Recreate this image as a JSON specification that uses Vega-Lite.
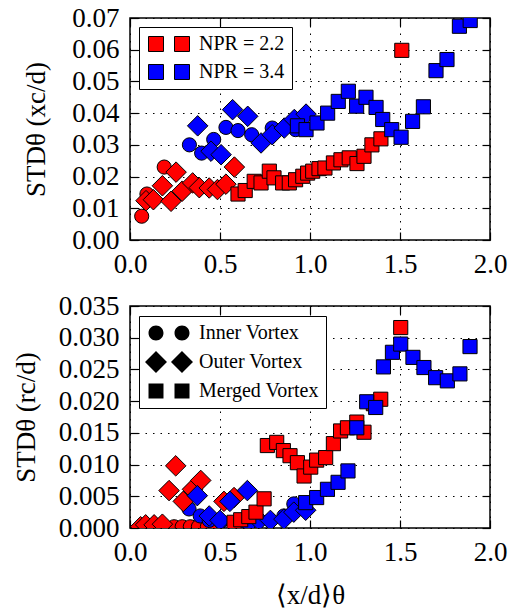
{
  "$schema": "https://vega.github.io/schema/vega-lite/v6.json",
  "padding": {"left": 11, "top": 3, "right": 5, "bottom": 0},
  "background": "white",
  "spacing": 66,
  "bounds": "flush",
  "resolve": {"scale": {"color": "independent", "shape": "independent"}, "legend": {"color": "independent", "shape": "independent"}},
  "datasets": {
    "top": [
      {"npr": "2.2", "type": "Inner Vortex", "x": 0.065, "y": 0.0075},
      {"npr": "2.2", "type": "Inner Vortex", "x": 0.094, "y": 0.0145},
      {"npr": "2.2", "type": "Inner Vortex", "x": 0.19, "y": 0.023},
      {"npr": "3.4", "type": "Inner Vortex", "x": 0.33, "y": 0.030},
      {"npr": "3.4", "type": "Inner Vortex", "x": 0.398, "y": 0.0274},
      {"npr": "3.4", "type": "Inner Vortex", "x": 0.465, "y": 0.0317},
      {"npr": "3.4", "type": "Inner Vortex", "x": 0.533, "y": 0.0355},
      {"npr": "3.4", "type": "Inner Vortex", "x": 0.60, "y": 0.0345},
      {"npr": "3.4", "type": "Inner Vortex", "x": 0.676, "y": 0.0332},
      {"npr": "3.4", "type": "Inner Vortex", "x": 0.79, "y": 0.0353},
      {"npr": "3.4", "type": "Inner Vortex", "x": 0.92, "y": 0.0348},
      {"npr": "2.2", "type": "Outer Vortex", "x": 0.089, "y": 0.0124},
      {"npr": "2.2", "type": "Outer Vortex", "x": 0.13, "y": 0.0127},
      {"npr": "2.2", "type": "Outer Vortex", "x": 0.18, "y": 0.0171},
      {"npr": "2.2", "type": "Outer Vortex", "x": 0.228, "y": 0.0122},
      {"npr": "2.2", "type": "Outer Vortex", "x": 0.256, "y": 0.0214},
      {"npr": "2.2", "type": "Outer Vortex", "x": 0.29, "y": 0.0154},
      {"npr": "2.2", "type": "Outer Vortex", "x": 0.348, "y": 0.018},
      {"npr": "2.2", "type": "Outer Vortex", "x": 0.385, "y": 0.0165},
      {"npr": "2.2", "type": "Outer Vortex", "x": 0.44, "y": 0.0164},
      {"npr": "2.2", "type": "Outer Vortex", "x": 0.486, "y": 0.0159},
      {"npr": "2.2", "type": "Outer Vortex", "x": 0.533, "y": 0.0176},
      {"npr": "2.2", "type": "Outer Vortex", "x": 0.58, "y": 0.023},
      {"npr": "3.4", "type": "Outer Vortex", "x": 0.376, "y": 0.036},
      {"npr": "3.4", "type": "Outer Vortex", "x": 0.45, "y": 0.028},
      {"npr": "3.4", "type": "Outer Vortex", "x": 0.506, "y": 0.0269},
      {"npr": "3.4", "type": "Outer Vortex", "x": 0.57, "y": 0.0411},
      {"npr": "3.4", "type": "Outer Vortex", "x": 0.654, "y": 0.039},
      {"npr": "3.4", "type": "Outer Vortex", "x": 0.728, "y": 0.0306},
      {"npr": "3.4", "type": "Outer Vortex", "x": 0.79, "y": 0.0332},
      {"npr": "3.4", "type": "Outer Vortex", "x": 0.857, "y": 0.0353},
      {"npr": "3.4", "type": "Outer Vortex", "x": 0.913, "y": 0.038},
      {"npr": "3.4", "type": "Outer Vortex", "x": 0.978, "y": 0.0397},
      {"npr": "2.2", "type": "Merged Vortex", "x": 0.60, "y": 0.0145},
      {"npr": "2.2", "type": "Merged Vortex", "x": 0.64, "y": 0.0156},
      {"npr": "2.2", "type": "Merged Vortex", "x": 0.69, "y": 0.0185},
      {"npr": "2.2", "type": "Merged Vortex", "x": 0.728, "y": 0.018},
      {"npr": "2.2", "type": "Merged Vortex", "x": 0.774, "y": 0.0217},
      {"npr": "2.2", "type": "Merged Vortex", "x": 0.80, "y": 0.0196},
      {"npr": "2.2", "type": "Merged Vortex", "x": 0.848, "y": 0.018},
      {"npr": "2.2", "type": "Merged Vortex", "x": 0.885, "y": 0.018},
      {"npr": "2.2", "type": "Merged Vortex", "x": 0.92, "y": 0.019},
      {"npr": "2.2", "type": "Merged Vortex", "x": 0.96, "y": 0.0201},
      {"npr": "2.2", "type": "Merged Vortex", "x": 0.987, "y": 0.0211},
      {"npr": "2.2", "type": "Merged Vortex", "x": 1.015, "y": 0.0217},
      {"npr": "2.2", "type": "Merged Vortex", "x": 1.05, "y": 0.0225},
      {"npr": "2.2", "type": "Merged Vortex", "x": 1.083, "y": 0.0227},
      {"npr": "2.2", "type": "Merged Vortex", "x": 1.13, "y": 0.0243},
      {"npr": "2.2", "type": "Merged Vortex", "x": 1.172, "y": 0.0253},
      {"npr": "2.2", "type": "Merged Vortex", "x": 1.218, "y": 0.0259},
      {"npr": "2.2", "type": "Merged Vortex", "x": 1.261, "y": 0.0241},
      {"npr": "2.2", "type": "Merged Vortex", "x": 1.30, "y": 0.0264},
      {"npr": "2.2", "type": "Merged Vortex", "x": 1.344, "y": 0.030},
      {"npr": "2.2", "type": "Merged Vortex", "x": 1.394, "y": 0.0319},
      {"npr": "2.2", "type": "Merged Vortex", "x": 1.51, "y": 0.0598},
      {"npr": "3.4", "type": "Merged Vortex", "x": 0.93, "y": 0.036},
      {"npr": "3.4", "type": "Merged Vortex", "x": 0.978, "y": 0.0348},
      {"npr": "3.4", "type": "Merged Vortex", "x": 1.039, "y": 0.0369},
      {"npr": "3.4", "type": "Merged Vortex", "x": 1.098, "y": 0.040},
      {"npr": "3.4", "type": "Merged Vortex", "x": 1.157, "y": 0.0437},
      {"npr": "3.4", "type": "Merged Vortex", "x": 1.213, "y": 0.0469},
      {"npr": "3.4", "type": "Merged Vortex", "x": 1.259, "y": 0.0422},
      {"npr": "3.4", "type": "Merged Vortex", "x": 1.311, "y": 0.045},
      {"npr": "3.4", "type": "Merged Vortex", "x": 1.367, "y": 0.0418},
      {"npr": "3.4", "type": "Merged Vortex", "x": 1.404, "y": 0.038},
      {"npr": "3.4", "type": "Merged Vortex", "x": 1.454, "y": 0.0348},
      {"npr": "3.4", "type": "Merged Vortex", "x": 1.506, "y": 0.0324},
      {"npr": "3.4", "type": "Merged Vortex", "x": 1.57, "y": 0.0374},
      {"npr": "3.4", "type": "Merged Vortex", "x": 1.63, "y": 0.042},
      {"npr": "3.4", "type": "Merged Vortex", "x": 1.70, "y": 0.0534},
      {"npr": "3.4", "type": "Merged Vortex", "x": 1.761, "y": 0.0569},
      {"npr": "3.4", "type": "Merged Vortex", "x": 1.83, "y": 0.0674},
      {"npr": "3.4", "type": "Merged Vortex", "x": 1.89, "y": 0.0692}
    ],
    "bottom": [
      {"npr": "2.2", "type": "Inner Vortex", "x": 0.245, "y": 0.0002},
      {"npr": "2.2", "type": "Inner Vortex", "x": 0.29, "y": 0.0002},
      {"npr": "2.2", "type": "Inner Vortex", "x": 0.335, "y": 0.0002},
      {"npr": "2.2", "type": "Inner Vortex", "x": 0.38, "y": 0.0002},
      {"npr": "2.2", "type": "Inner Vortex", "x": 0.43, "y": 0.0002},
      {"npr": "2.2", "type": "Inner Vortex", "x": 0.475, "y": 0.0002},
      {"npr": "3.4", "type": "Inner Vortex", "x": 0.328, "y": 0.003},
      {"npr": "3.4", "type": "Inner Vortex", "x": 0.39, "y": 0.0019},
      {"npr": "3.4", "type": "Inner Vortex", "x": 0.44, "y": 0.0012},
      {"npr": "3.4", "type": "Inner Vortex", "x": 0.504, "y": 0.001},
      {"npr": "3.4", "type": "Inner Vortex", "x": 0.597, "y": 0.0007},
      {"npr": "3.4", "type": "Inner Vortex", "x": 0.66, "y": 0.0007},
      {"npr": "3.4", "type": "Inner Vortex", "x": 0.78, "y": 0.0012},
      {"npr": "3.4", "type": "Inner Vortex", "x": 0.855, "y": 0.0019},
      {"npr": "3.4", "type": "Inner Vortex", "x": 0.91, "y": 0.0038},
      {"npr": "2.2", "type": "Outer Vortex", "x": 0.059, "y": 0.0002},
      {"npr": "2.2", "type": "Outer Vortex", "x": 0.087, "y": 0.0005},
      {"npr": "2.2", "type": "Outer Vortex", "x": 0.134, "y": 0.0005},
      {"npr": "2.2", "type": "Outer Vortex", "x": 0.18, "y": 0.0006},
      {"npr": "2.2", "type": "Outer Vortex", "x": 0.217, "y": 0.0059},
      {"npr": "2.2", "type": "Outer Vortex", "x": 0.254, "y": 0.0098},
      {"npr": "2.2", "type": "Outer Vortex", "x": 0.296, "y": 0.0042},
      {"npr": "2.2", "type": "Outer Vortex", "x": 0.347, "y": 0.0061},
      {"npr": "2.2", "type": "Outer Vortex", "x": 0.393, "y": 0.0075},
      {"npr": "2.2", "type": "Outer Vortex", "x": 0.522, "y": 0.0042},
      {"npr": "2.2", "type": "Outer Vortex", "x": 0.578, "y": 0.0048},
      {"npr": "3.4", "type": "Outer Vortex", "x": 0.374, "y": 0.0051},
      {"npr": "3.4", "type": "Outer Vortex", "x": 0.44, "y": 0.0019},
      {"npr": "3.4", "type": "Outer Vortex", "x": 0.50, "y": 0.0012},
      {"npr": "3.4", "type": "Outer Vortex", "x": 0.555, "y": 0.0042},
      {"npr": "3.4", "type": "Outer Vortex", "x": 0.652, "y": 0.0059},
      {"npr": "3.4", "type": "Outer Vortex", "x": 0.717, "y": 0.0012},
      {"npr": "3.4", "type": "Outer Vortex", "x": 0.78, "y": 0.0012},
      {"npr": "3.4", "type": "Outer Vortex", "x": 0.855, "y": 0.0014},
      {"npr": "3.4", "type": "Outer Vortex", "x": 0.91, "y": 0.0025},
      {"npr": "3.4", "type": "Outer Vortex", "x": 0.976, "y": 0.0028},
      {"npr": "2.2", "type": "Merged Vortex", "x": 0.578, "y": 0.0009},
      {"npr": "2.2", "type": "Merged Vortex", "x": 0.615, "y": 0.0013},
      {"npr": "2.2", "type": "Merged Vortex", "x": 0.66, "y": 0.0018},
      {"npr": "2.2", "type": "Merged Vortex", "x": 0.70, "y": 0.0025},
      {"npr": "2.2", "type": "Merged Vortex", "x": 0.745, "y": 0.0046},
      {"npr": "2.2", "type": "Merged Vortex", "x": 0.763, "y": 0.013},
      {"npr": "2.2", "type": "Merged Vortex", "x": 0.815, "y": 0.0135},
      {"npr": "2.2", "type": "Merged Vortex", "x": 0.852, "y": 0.0122},
      {"npr": "2.2", "type": "Merged Vortex", "x": 0.889, "y": 0.0114},
      {"npr": "2.2", "type": "Merged Vortex", "x": 0.93, "y": 0.0103},
      {"npr": "2.2", "type": "Merged Vortex", "x": 0.967, "y": 0.0082},
      {"npr": "2.2", "type": "Merged Vortex", "x": 1.004, "y": 0.0096},
      {"npr": "2.2", "type": "Merged Vortex", "x": 1.037, "y": 0.0107},
      {"npr": "2.2", "type": "Merged Vortex", "x": 1.087, "y": 0.0111},
      {"npr": "2.2", "type": "Merged Vortex", "x": 1.13, "y": 0.0133},
      {"npr": "2.2", "type": "Merged Vortex", "x": 1.17, "y": 0.0153},
      {"npr": "2.2", "type": "Merged Vortex", "x": 1.208, "y": 0.0158},
      {"npr": "2.2", "type": "Merged Vortex", "x": 1.26, "y": 0.0167},
      {"npr": "2.2", "type": "Merged Vortex", "x": 1.30, "y": 0.0151},
      {"npr": "2.2", "type": "Merged Vortex", "x": 1.352, "y": 0.0196},
      {"npr": "2.2", "type": "Merged Vortex", "x": 1.393, "y": 0.0203},
      {"npr": "2.2", "type": "Merged Vortex", "x": 1.504, "y": 0.0316},
      {"npr": "3.4", "type": "Merged Vortex", "x": 0.976, "y": 0.004},
      {"npr": "3.4", "type": "Merged Vortex", "x": 1.037, "y": 0.0048},
      {"npr": "3.4", "type": "Merged Vortex", "x": 1.097, "y": 0.0061},
      {"npr": "3.4", "type": "Merged Vortex", "x": 1.156, "y": 0.0072},
      {"npr": "3.4", "type": "Merged Vortex", "x": 1.211, "y": 0.009},
      {"npr": "3.4", "type": "Merged Vortex", "x": 1.26, "y": 0.0158},
      {"npr": "3.4", "type": "Merged Vortex", "x": 1.315, "y": 0.0199},
      {"npr": "3.4", "type": "Merged Vortex", "x": 1.365, "y": 0.019},
      {"npr": "3.4", "type": "Merged Vortex", "x": 1.408, "y": 0.0254},
      {"npr": "3.4", "type": "Merged Vortex", "x": 1.458, "y": 0.0277},
      {"npr": "3.4", "type": "Merged Vortex", "x": 1.504, "y": 0.029},
      {"npr": "3.4", "type": "Merged Vortex", "x": 1.572, "y": 0.0269},
      {"npr": "3.4", "type": "Merged Vortex", "x": 1.633, "y": 0.0253},
      {"npr": "3.4", "type": "Merged Vortex", "x": 1.698, "y": 0.0237},
      {"npr": "3.4", "type": "Merged Vortex", "x": 1.763, "y": 0.0232},
      {"npr": "3.4", "type": "Merged Vortex", "x": 1.833, "y": 0.0243},
      {"npr": "3.4", "type": "Merged Vortex", "x": 1.889, "y": 0.0286}
    ]
  },
  "config": {
    "font": "Liberation Serif",
    "view": {"stroke": "black", "strokeWidth": 1.5},
    "axis": {
      "labelFont": "Liberation Serif", "labelFontSize": 27, "labelColor": "black",
      "titleFont": "Liberation Serif", "titleFontSize": 27, "titleFontWeight": "normal", "titleColor": "black",
      "domain": false, "tickColor": "black", "tickSize": -8, "tickWidth": 1.2,
      "gridColor": "black", "gridDash": [1.5, 6], "gridWidth": 1, "gridOpacity": 1,
      "labelPadding": 19, "labelFlush": false, "labelOverlap": false
    },
    "legend": {
      "labelFont": "Liberation Serif", "labelFontSize": 20, "labelColor": "black",
      "strokeColor": "black", "fillColor": "white", "padding": 7, "rowPadding": 8,
      "symbolSize": 196, "symbolStrokeColor": "black", "symbolStrokeWidth": 1,
      "labelOffset": 33, "symbolOffset": 0, "cornerRadius": 0
    }
  },
  "vconcat": [
    {
      "width": 360, "height": 222,
      "data": {"name": "top"},
      "layer": [
        {
          "mark": {"type": "point", "filled": true, "opacity": 1, "stroke": "black", "strokeWidth": 1, "clip": true, "size": 200},
          "encoding": {
            "x": {"field": "x", "type": "quantitative", "scale": {"domain": [0, 2], "nice": false},
                  "axis": {"title": null, "values": [0, 0.5, 1, 1.5, 2], "format": ".1f"}},
            "y": {"field": "y", "type": "quantitative", "scale": {"domain": [0, 0.07], "nice": false},
                  "axis": {"title": "STDθ (xc/d)", "values": [0, 0.01, 0.02, 0.03, 0.04, 0.05, 0.06, 0.07], "format": ".2f", "titleX": -86, "titleBaseline": "alphabetic"}},
            "color": {"field": "npr", "type": "nominal", "scale": {"domain": ["2.2", "3.4"], "range": ["#ff0000", "#0000ff"]},
                      "legend": {"orient": "none", "legendX": 9, "legendY": 9, "title": null, "labelExpr": "'NPR = ' + datum.label",
                                 "symbolType": "M-1.07,-1.07H1.07V1.07H-1.07Z M2.643,-1.07H4.786V1.07H2.643Z"}},
            "shape": {"field": "type", "type": "nominal", "scale": {"domain": ["Inner Vortex", "Outer Vortex", "Merged Vortex"], "range": ["circle", "M0,-1.45L1.45,0L0,1.45L-1.45,0Z", "square"]}, "legend": null}
          }
        },
        {
          "mark": {"type": "point", "opacity": 0},
          "encoding": {
            "x": {"field": "x", "type": "quantitative", "axis": {"orient": "top", "title": null, "labels": false, "grid": false, "values": [0, 0.5, 1, 1.5, 2]}},
            "y": {"field": "y", "type": "quantitative", "axis": {"orient": "right", "title": null, "labels": false, "grid": false, "values": [0, 0.01, 0.02, 0.03, 0.04, 0.05, 0.06, 0.07]}}
          }
        }
      ],
      "resolve": {"axis": {"x": "independent", "y": "independent"}}
    },
    {
      "width": 360, "height": 222,
      "data": {"name": "bottom"},
      "layer": [
        {
          "mark": {"type": "point", "filled": true, "opacity": 1, "stroke": "black", "strokeWidth": 1, "clip": true, "size": 200},
          "encoding": {
            "x": {"field": "x", "type": "quantitative", "scale": {"domain": [0, 2], "nice": false},
                  "axis": {"title": "⟨x/d⟩θ", "values": [0, 0.5, 1, 1.5, 2], "format": ".1f", "titlePadding": 17}},
            "y": {"field": "y", "type": "quantitative", "scale": {"domain": [0, 0.035], "nice": false},
                  "axis": {"title": "STDθ (rc/d)", "values": [0, 0.005, 0.01, 0.015, 0.02, 0.025, 0.03, 0.035], "format": ".3f", "titleX": -96, "titleBaseline": "alphabetic"}},
            "color": {"field": "npr", "type": "nominal", "scale": {"domain": ["2.2", "3.4"], "range": ["#ff0000", "#0000ff"]}, "legend": null},
            "shape": {"field": "type", "type": "nominal", "scale": {"domain": ["Inner Vortex", "Outer Vortex", "Merged Vortex"], "range": ["circle", "M0,-1.45L1.45,0L0,1.45L-1.45,0Z", "square"]}, "legend": null}
          }
        },
        {
          "mark": {"type": "point", "opacity": 0, "filled": true, "color": "black", "fill": "black", "stroke": "black"},
          "encoding": {
            "x": {"field": "x", "type": "quantitative", "axis": {"orient": "top", "title": null, "labels": false, "grid": false, "values": [0, 0.5, 1, 1.5, 2]}},
            "y": {"field": "y", "type": "quantitative", "axis": {"orient": "right", "title": null, "labels": false, "grid": false, "values": [0, 0.005, 0.01, 0.015, 0.02, 0.025, 0.03, 0.035]}},
            "shape": {"field": "type", "type": "nominal",
                      "scale": {"domain": ["Inner Vortex", "Outer Vortex", "Merged Vortex"],
                                "range": ["M-1.07,0A1.07,1.07,0,1,0,1.07,0A1.07,1.07,0,1,0,-1.07,0Z M2.643,0A1.07,1.07,0,1,0,4.786,0A1.07,1.07,0,1,0,2.643,0Z",
                                          "M0,-1.571L1.571,0L0,1.571L-1.571,0Z M3.714,-1.571L5.286,0L3.714,1.571L2.143,0Z",
                                          "M-1.07,-1.07H1.07V1.07H-1.07Z M2.643,-1.07H4.786V1.07H2.643Z"]},
                      "legend": {"orient": "none", "legendX": 9, "legendY": 10, "title": null, "symbolOpacity": 1,
                                 "symbolFillColor": "black", "symbolStrokeColor": "black", "rowPadding": 6}}
          }
        }
      ],
      "resolve": {"axis": {"x": "independent", "y": "independent"}, "scale": {"shape": "independent"}, "legend": {"shape": "independent"}}
    }
  ]
}
